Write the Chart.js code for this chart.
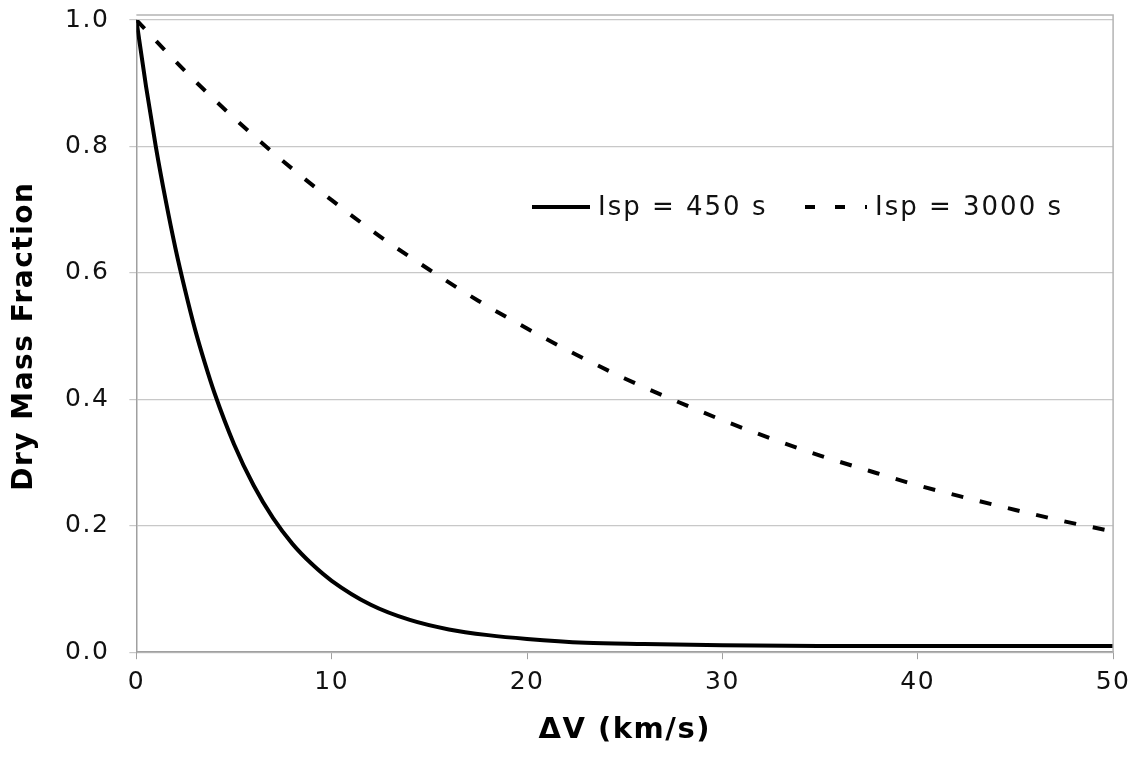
<!DOCTYPE html>
<html>
<head>
<meta charset="utf-8">
<script src="https://cdn.jsdelivr.net/npm/chart.js@4/dist/chart.umd.min.js"></script>
<style>
  html, body { margin: 0; padding: 0; background: #fff; }
  #wrap { width: 1137px; height: 758px; position: relative; }
</style>
</head>
<body>
<div id="wrap"><canvas id="massChart"></canvas></div>
<script>
// values
const dvLow = [0, 0.5, 1, 1.5, 2, 2.5, 3, 3.5, 4, 5, 6, 7, 8, 9, 10, 12, 14, 16, 18, 20, 23, 26, 30, 35, 40, 45, 50];
const isp450 = [1.0, 0.894, 0.799, 0.715, 0.639, 0.572, 0.511, 0.458, 0.41, 0.329, 0.264, 0.212, 0.171, 0.139, 0.113, 0.075, 0.051, 0.036, 0.027, 0.021, 0.015, 0.013, 0.011, 0.01, 0.01, 0.01, 0.01];

const dvHigh = [0, 2.5, 5, 7.5, 10, 12.5, 15, 17.5, 20, 22.5, 25, 27.5, 30, 32.5, 35, 37.5, 40, 42.5, 45, 47.5, 50];
const isp3000 = [1.0, 0.919, 0.845, 0.777, 0.715, 0.657, 0.605, 0.556, 0.512, 0.471, 0.433, 0.399, 0.367, 0.338, 0.311, 0.287, 0.264, 0.244, 0.225, 0.207, 0.191];

const seriesNames = ["Isp = 450 s", "Isp = 3000 s"];
const xTicks = [0, 10, 20, 30, 40, 50];
const yTicks = [0, 0.2, 0.4, 0.6, 0.8, 1.0];

function toPoints(xs, ys) {
  return xs.map(function(x, i){ return { x: x, y: ys[i] }; });
}

const dashPattern = [12, 17];

// plot frame + legend drawn by hand (legend sits inside the plot, Excel style)
const framePlugin = {
  id: 'frame',
  beforeDraw: function(chart) {
    chart.ctx.letterSpacing = '1.5px';
  },
  afterDraw: function(chart) {
    const ctx = chart.ctx;
    const a = chart.chartArea;
    ctx.save();
    ctx.strokeStyle = '#b4b4b4';
    ctx.lineWidth = 1.5;
    ctx.beginPath();
    ctx.moveTo(a.left, a.top - 5);
    ctx.lineTo(a.right, a.top - 5);
    ctx.lineTo(a.right, a.bottom);
    ctx.stroke();

    ctx.font = '26px "DejaVu Sans"';
    ctx.fillStyle = '#111';
    ctx.textBaseline = 'middle';
    ctx.letterSpacing = '2px';
    const ly = 207;
    // solid sample
    ctx.strokeStyle = '#000';
    ctx.lineWidth = 4;
    ctx.setLineDash([]);
    ctx.beginPath();
    ctx.moveTo(532, ly);
    ctx.lineTo(590, ly);
    ctx.stroke();
    ctx.fillText(seriesNames[0], 598, ly + 1);
    // dashed sample
    ctx.setLineDash([10, 20]);
    ctx.beginPath();
    ctx.moveTo(805, ly);
    ctx.lineTo(867, ly);
    ctx.stroke();
    ctx.setLineDash([]);
    ctx.fillText(seriesNames[1], 875, ly + 1);
    ctx.restore();
    ctx.letterSpacing = '0px';
  }
};

const data = {
  datasets: [{
    label: seriesNames[0],
    data: toPoints(dvLow, isp450),
    borderColor: '#000',
    borderWidth: 4,
    pointRadius: 0,
    cubicInterpolationMode: 'monotone',
    fill: false
  }, {
    label: seriesNames[1],
    data: toPoints(dvHigh, isp3000),
    borderColor: '#000',
    borderWidth: 4,
    borderDash: dashPattern,
    pointRadius: 0,
    cubicInterpolationMode: 'monotone',
    fill: false
  }]
};

const config = {
  type: 'line',
  data: data,
  plugins: [framePlugin],
  options: {
    responsive: true,
    maintainAspectRatio: false,
    animation: false,
    layout: { padding: { left: 8, right: 4, top: 20, bottom: 10 } },
    plugins: {
      legend: { display: false },
      tooltip: { enabled: false }
    },
    scales: {
      x: {
        type: 'linear',
        min: 0,
        max: 50,
        afterBuildTicks: function(axis){ axis.ticks = xTicks.map(function(v){ return { value: v }; }); },
        grid: { drawOnChartArea: false, drawTicks: true, tickLength: 7, color: '#a0a0a0' },
        border: { color: '#a0a0a0', width: 1.5 },
        ticks: { color: '#111', font: { family: 'DejaVu Sans', size: 25 }, padding: 8, maxRotation: 0 },
        title: {
          display: true,
          text: 'ΔV (km/s)',
          color: '#000',
          font: { family: 'DejaVu Sans', size: 29, weight: 'bold' },
          padding: { top: 8, bottom: 0 }
        }
      },
      y: {
        type: 'linear',
        min: 0,
        max: 1.0,
        afterBuildTicks: function(axis){ axis.ticks = yTicks.map(function(v){ return { value: v }; }); },
        afterFit: function(scale){ scale.paddingTop = 0; scale.paddingBottom = 0; },
        grid: { color: '#c8c8c8', lineWidth: 1.2, tickLength: 7 },
        border: { color: '#a0a0a0', width: 1.5 },
        ticks: {
          color: '#111',
          font: { family: 'DejaVu Sans', size: 25 },
          padding: 20,
          callback: function(v){ return v.toFixed(1); }
        },
        title: {
          display: true,
          text: 'Dry Mass Fraction',
          color: '#000',
          font: { family: 'DejaVu Sans', size: 28, weight: 'bold' },
          padding: { top: 0, bottom: 8 }
        }
      }
    }
  }
};

var ch1 = null;
if (ch1) {
  ch1.destroy();
}
ch1 = new Chart("massChart", config);
</script>
</body>
</html>
